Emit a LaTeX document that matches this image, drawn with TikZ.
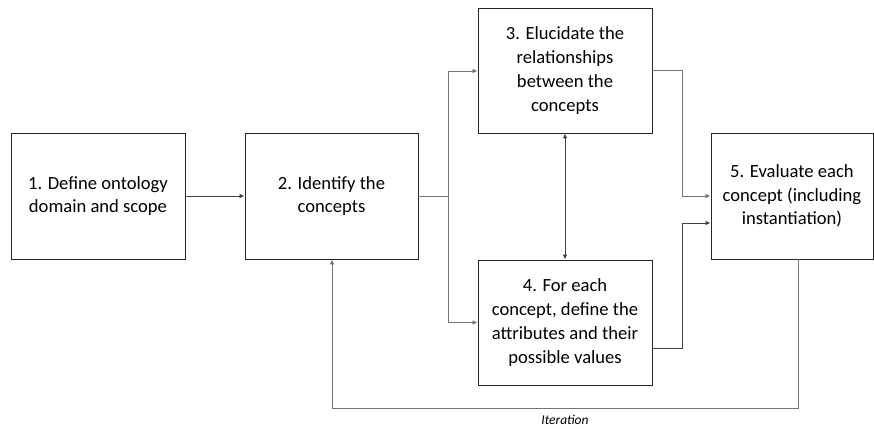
\documentclass[tikz,border=0pt]{standalone}
\usepackage{fontspec}
\setmainfont{Carlito}
\usetikzlibrary{arrows.meta}
\begin{document}
\begin{tikzpicture}[x=1pt,y=-1pt,
  stepbox/.style={draw=black!85,line width=0.9pt,align=center,inner sep=0pt,
    font=\fontsize{18.6}{23.7}\selectfont},
  conn/.style={draw=black!55,line width=0.8pt,-{Latex[length=5pt,width=4.5pt]}},
  connd/.style={draw=black!75,line width=0.8pt,-{Latex[length=5pt,width=4.5pt]}}]
\useasboundingbox (0,0) rectangle (874,428);
\node[stepbox,minimum width=174pt,minimum height=126pt] (b1) at (98,196) {1. Define ontology\\domain and scope};
\node[stepbox,minimum width=173pt,minimum height=126pt] (b2) at (331.5,196) {2. Identify the\\concepts};
\node[stepbox,minimum width=174pt,minimum height=125pt] (b3) at (565,70.5) {3. Elucidate the\\relationships\\between the\\concepts};
\node[stepbox,minimum width=174pt,minimum height=125pt] (b4) at (565,322.5) {4. For each\\concept, define the\\attributes and their\\possible values};
\node[stepbox,minimum width=162pt,minimum height=126pt,anchor=west] (b5) at (710.5,196) {5. Evaluate each\\concept (including\\instantiation)};
\coordinate (split) at (448,196);
\coordinate (join) at (682,196);
\draw[connd] (b1.east) -- (b2.west);
\draw[conn] (b2.east) -- (split) |- ([yshift=-0.5pt]b3.west);
\draw[conn] (split) |- (b4.west);
\draw[conn] ([yshift=0.5pt]b3.east) -| (join) -- (b5.west);
\draw[connd] (b4.east |- 0,348) -| (682,223) -- (b5.west |- 0,223);
\draw[line width=0.8pt,draw=black!75,{Latex[length=5pt,width=4.5pt]}-{Latex[length=5pt,width=4.5pt]}] (b3.south) -- (b4.north);
\coordinate (itr) at (798,408);
\coordinate (itl) at (332,408);
\draw[conn] (b5.south -| itr) -- (itr) -- node[below=3pt,font=\itshape\fontsize{13.5}{15}\selectfont,text=black] (itlabel) {Iteration} (itl) -- (b2.south -| itl);
\end{tikzpicture}
\end{document}
